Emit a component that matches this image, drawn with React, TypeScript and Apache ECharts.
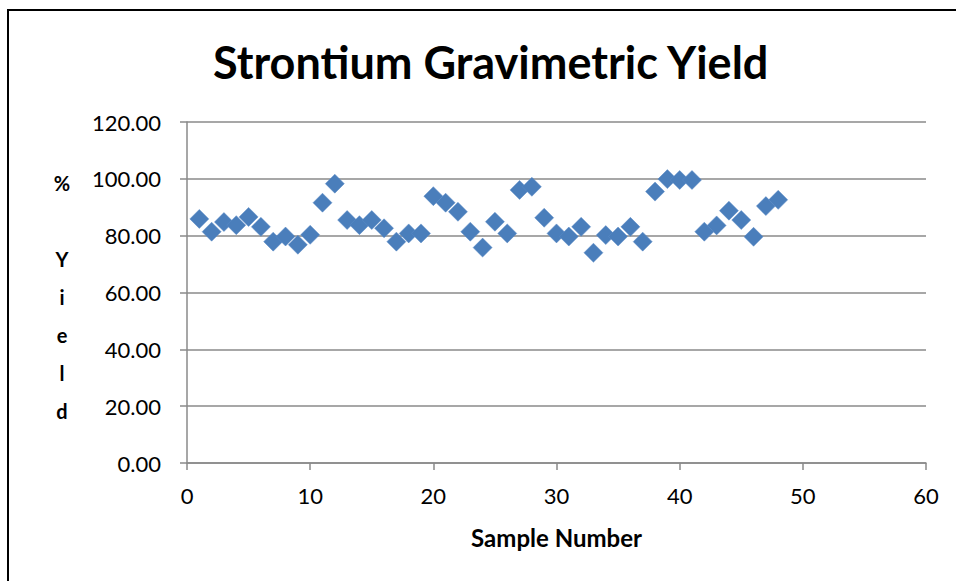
import React, { useEffect, useRef } from "react";
import * as echarts from "echarts";

const sampleNumbers: number[] = [
  1, 2, 3, 4, 5, 6, 7, 8, 9, 10, 11, 12, 13, 14, 15, 16, 17, 18, 19, 20, 21, 22, 23, 24,
  25, 26, 27, 28, 29, 30, 31, 32, 33, 34, 35, 36, 37, 38, 39, 40, 41, 42, 43, 44, 45, 46, 47, 48,
];
const yieldPercent: number[] = [
  85.9, 81.4, 84.8, 83.7, 86.6, 83.1, 77.9, 79.7, 76.8, 80.3, 91.6, 98.3,
  85.5, 83.7, 85.5, 82.6, 77.9, 80.8, 80.8, 93.9, 91.6, 88.4, 81.4, 75.8,
  84.9, 80.8, 96.1, 97.2, 86.3, 80.8, 79.7, 83.1, 74.0, 80.2, 79.7, 83.1,
  77.9, 95.5, 99.9, 99.6, 99.6, 81.4, 83.6, 88.8, 85.5, 79.6, 90.4, 92.6,
];
const titleText = "Strontium Gravimetric Yield";
const xAxisTitle = "Sample Number";
const yAxisTitle = "%\n\nY\ni\ne\nl\nd";

const FONT = "Lato, 'Open Sans', sans-serif";

export default function App() {
  const ref = useRef<HTMLDivElement>(null);
  useEffect(() => {
    document.body.style.margin = "0";
    const chart = echarts.init(ref.current!, null, { renderer: "svg" });
    const data = sampleNumbers.map((n, i) => [n, yieldPercent[i]]);
    chart.setOption({
      animation: false,
      backgroundColor: "#ffffff",
      textStyle: { fontFamily: FONT },
      title: {
        text: titleText,
        left: 208,
        top: 34,
        textStyle: { fontSize: 45, fontWeight: "bold", color: "#000", fontFamily: FONT },
      },
      grid: { left: 187, right: 30, top: 122, bottom: 118 },
      xAxis: {
        type: "value",
        min: 0,
        max: 60,
        interval: 10,
        name: xAxisTitle,
        nameLocation: "middle",
        nameGap: 62,
        nameTextStyle: { fontSize: 24, fontWeight: "bold", color: "#000", fontFamily: FONT },
        axisLine: { show: true, lineStyle: { color: "#8a8a8a", width: 1.5 } },
        axisTick: { show: true, inside: false, length: 7, lineStyle: { color: "#8a8a8a", width: 1.5 } },
        axisLabel: { fontSize: 22, color: "#000", margin: 21, fontFamily: FONT },
        splitLine: { show: false },
      },
      yAxis: {
        type: "value",
        min: 0,
        max: 120,
        interval: 20,
        axisLine: { show: true, lineStyle: { color: "#8a8a8a", width: 1.5 } },
        axisTick: { show: true, inside: false, length: 7, lineStyle: { color: "#8a8a8a", width: 1.5 } },
        axisLabel: {
          fontSize: 22,
          color: "#000",
          margin: 26,
          fontFamily: FONT,
          formatter: (v: number) => v.toFixed(2),
        },
        splitLine: { show: true, lineStyle: { color: "#8a8a8a", width: 1.5 } },
      },
      graphic: [
        {
          type: "line",
          shape: { x1: 7, y1: 10, x2: 956, y2: 10 },
          style: { stroke: "#000", lineWidth: 2 },
        },
        {
          type: "line",
          shape: { x1: 8, y1: 10, x2: 8, y2: 581 },
          style: { stroke: "#000", lineWidth: 2 },
        },
        {
          type: "text",
          x: 62,
          y: 164,
          style: {
            text: yAxisTitle,
            fontSize: 20,
            fontWeight: "bold",
            fontFamily: FONT,
            fill: "#000",
            align: "center",
            lineHeight: 38,
          },
        },
      ],
      series: [
        {
          type: "scatter",
          data,
          symbol: "diamond",
          symbolSize: 19,
          itemStyle: { color: "#4a7ebb", opacity: 1, borderColor: "#5a8ac6", borderWidth: 0.5 },
        },
      ],
    });
    return () => chart.dispose();
  }, []);
  return (
    <div
      ref={ref}
      style={{ position: "fixed", left: 0, top: 0, width: 956, height: 581 }}
    />
  );
}
